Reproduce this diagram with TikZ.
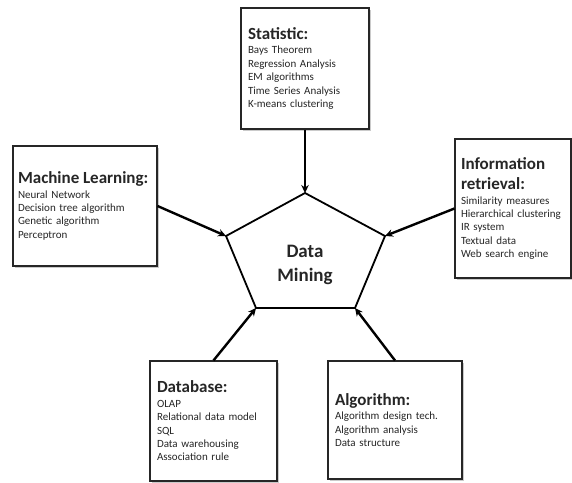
\documentclass[tikz,border=0pt]{standalone}
\usepackage{fontspec}
\setmainfont{Carlito}
\usetikzlibrary{arrows.meta,shadows}
\begin{document}
\begin{tikzpicture}[x=1pt,y=-1pt,
  box/.style={draw=black!85, line width=1.1pt, fill=white, align=left,
    inner xsep=7pt, inner ysep=0pt, font=\fontsize{11}{13.4}\selectfont, text=black!85,
    drop shadow={opacity=0.35, shadow xshift=1.5pt, shadow yshift=-1.5pt, fill=black!60}},
  conn/.style={line width=2.4pt, -{Stealth[length=8pt,width=7.5pt]}},
  dmtext/.style={font=\fontsize{19}{24}\selectfont\bfseries, align=center, text=black!85},
  pent/.style={line width=1.8pt, line join=miter}
]
\newcommand\ttl[1]{\mbox{\fontsize{17}{20}\selectfont\bfseries #1}}
\useasboundingbox (0,0) rectangle (572,482);

\node[box, text width=114pt, minimum height=121pt] (stat) at (305,68.5)
  {\ttl{Statistic:}\\[1pt]Bays Theorem\\Regression Analysis\\EM algorithms\\Time Series Analysis\\K-means clustering};
\node[box, text width=134pt, inner xsep=5pt, minimum height=120pt] (ml) at (85,206)
  {\ttl{Machine Learning:}\\[1pt]Neural Network\\Decision tree algorithm\\Genetic algorithm\\Perceptron};
\node[box, text width=104pt, inner xsep=6pt, minimum height=139pt] (info) at (513,208.5)
  {\ttl{Information}\\[7pt]\ttl{retrieval:}\\[1pt]Similarity measures\\Hierarchical clustering\\IR system\\Textual data\\Web search engine};
\node[box, text width=113pt, minimum height=120pt] (db) at (213.5,421)
  {\ttl{Database:}\\[1pt]OLAP\\Relational data model\\SQL\\Data warehousing\\Association rule};
\node[box, text width=120pt, minimum height=118pt] (alg) at (395,420)
  {\ttl{Algorithm:}\\[1pt]Algorithm design tech.\\Algorithm analysis\\Data structure};

\coordinate (pt) at (305,193);
\coordinate (pl) at (226,236);
\coordinate (pr) at (385,236);
\coordinate (pbl) at (256,308);
\coordinate (pbr) at (355,308);
\draw[pent] (pt) -- (pr) -- (pbr) -- (pbl) -- (pl) -- cycle;
\node[dmtext] (dm) at (305,265) {Data\\Mining};

\draw[conn] (stat.south) -- (pt);
\draw[conn] (ml.east) -- (pl);
\draw[conn] (info.west) -- (pr);
\draw[conn] (db.north) -- (pbl);
\draw[conn] (alg.north) -- (pbr);
\end{tikzpicture}
\end{document}
